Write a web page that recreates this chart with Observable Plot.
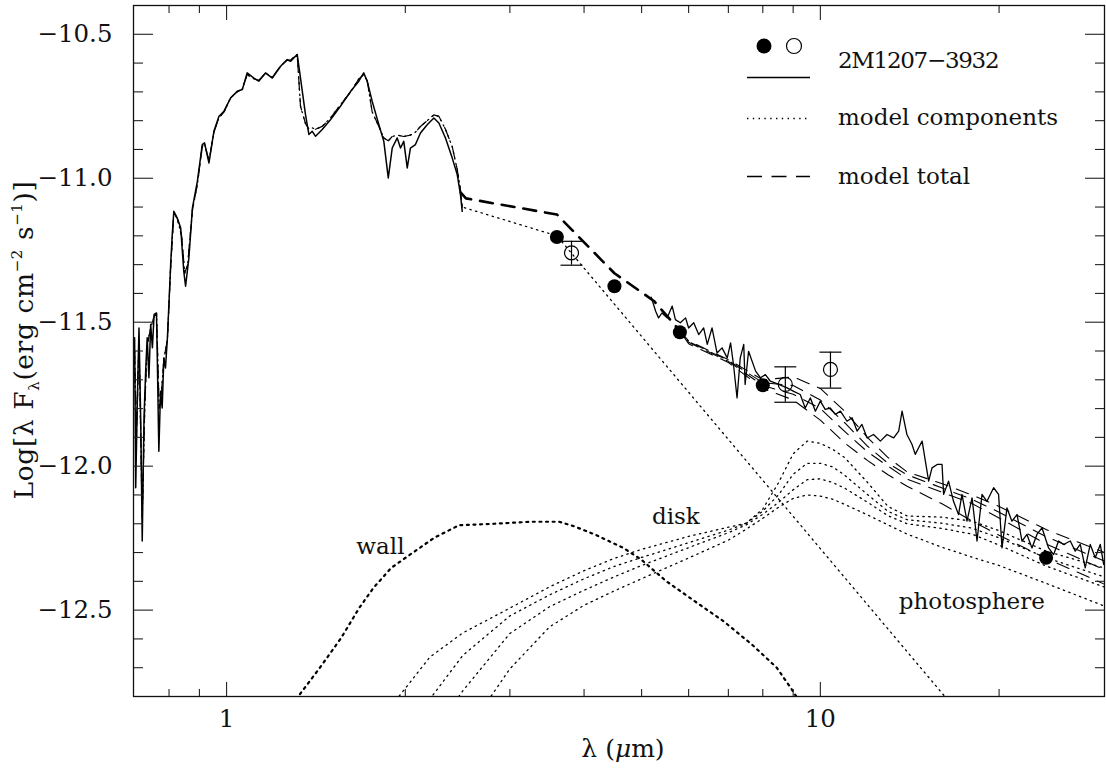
<!DOCTYPE html>
<html>
<head>
<meta charset="utf-8">
<script src="https://cdn.jsdelivr.net/npm/d3@7"></script>
<script src="https://cdn.jsdelivr.net/npm/@observablehq/plot@0.6"></script>
<style>
  html, body { margin: 0; padding: 0; background: #fff; }
  #chart { width: 1106px; height: 774px; }
</style>
</head>
<body>
<div id="chart"></div>
<script>
// ---------------- DATA (wavelength in micron, log10 of lambda*F_lambda) ----------------
// Observed near-IR spectrum
const nirWave = [0.700,0.703,0.707,0.712,0.717,0.721,0.726,0.731,0.735,0.740,0.745,0.750,0.755,0.762,0.764,0.769,0.774,0.779,0.784,0.789,0.795,0.800,0.805,0.810,0.815,0.826,0.837,0.847,0.853,0.864,0.876,0.893,0.910,0.918,0.934,0.952,0.971,0.990,1.016,1.042,1.063,1.083,1.112,1.133,1.163,1.194,1.233,1.265,1.281,1.315,1.332,1.358,1.376,1.394,1.412,1.449,1.497,1.555,1.618,1.670,1.702,1.725,1.759,1.805,1.840,1.872,1.901,1.938,1.963,1.988,2.015,2.040,2.080,2.121,2.177,2.234,2.278,2.337,2.399,2.446,2.477,2.494];
const nirFlux = [-11.554,-12.075,-11.798,-11.520,-11.855,-12.260,-11.832,-11.659,-11.554,-11.693,-11.508,-11.589,-11.473,-11.468,-11.601,-11.948,-11.740,-11.798,-11.624,-11.659,-11.554,-11.427,-11.300,-11.196,-11.115,-11.138,-11.173,-11.323,-11.375,-11.277,-11.103,-11.010,-10.883,-10.877,-10.947,-10.837,-10.785,-10.767,-10.721,-10.698,-10.692,-10.634,-10.652,-10.663,-10.634,-10.652,-10.611,-10.588,-10.594,-10.570,-10.652,-10.779,-10.848,-10.837,-10.854,-10.831,-10.796,-10.750,-10.698,-10.663,-10.634,-10.663,-10.733,-10.814,-10.872,-10.999,-10.895,-10.860,-10.895,-10.872,-10.964,-10.895,-10.883,-10.843,-10.814,-10.791,-10.808,-10.860,-10.930,-10.987,-11.057,-11.115];

// Observed mid-IR (IRS) spectrum
const irsWave = [5.19,5.28,5.34,5.41,5.52,5.63,5.70,5.81,5.93,6.00,6.12,6.24,6.36,6.45,6.57,6.70,6.83,6.97,7.06,7.14,7.24,7.33,7.43,7.47,7.57,7.78,7.93,8.08,8.24,8.51,8.79,9.02,9.25,9.43,9.62,9.81,10.0,10.19,10.39,10.60,10.81,11.09,11.31,11.53,11.75,11.99,12.29,12.62,12.95,13.29,13.55,13.73,13.99,14.27,14.45,14.64,14.84,15.03,15.22,15.42,15.73,16.03,16.13,16.44,16.76,17.09,17.32,17.66,18.01,18.36,18.72,19.08,19.58,19.96,20.23,20.62,21.02,21.44,21.86,22.28,22.72,23.16,23.62,24.23,24.71,25.19,25.68,26.36,26.87,27.40,27.93,28.48,29.04,29.61,30.0];
const irsFlux = [-11.413,-11.462,-11.485,-11.468,-11.485,-11.444,-11.491,-11.502,-11.485,-11.520,-11.502,-11.543,-11.520,-11.577,-11.520,-11.607,-11.589,-11.624,-11.572,-11.647,-11.763,-11.624,-11.577,-11.716,-11.601,-11.670,-11.693,-11.682,-11.705,-11.716,-11.728,-11.740,-11.751,-11.798,-11.763,-11.809,-11.774,-11.803,-11.798,-11.820,-11.809,-11.844,-11.832,-11.878,-11.855,-11.902,-11.890,-11.913,-11.890,-11.902,-11.878,-11.809,-11.890,-11.925,-11.959,-11.936,-11.913,-11.983,-12.052,-12.006,-11.994,-11.994,-12.098,-12.052,-12.122,-12.168,-12.098,-12.191,-12.110,-12.260,-12.098,-12.122,-12.075,-12.098,-12.284,-12.145,-12.191,-12.168,-12.260,-12.237,-12.284,-12.237,-12.214,-12.284,-12.307,-12.260,-12.272,-12.260,-12.295,-12.272,-12.353,-12.272,-12.318,-12.272,-12.341];

// Model photosphere in the near-IR (also the model total there)
const modelNirWave = [0.700,0.705,0.712,0.721,0.728,0.735,0.745,0.755,0.762,0.770,0.776,0.784,0.795,0.805,0.815,0.826,0.840,0.850,0.860,0.876,0.893,0.910,0.918,0.934,0.952,0.971,0.990,1.016,1.042,1.063,1.083,1.112,1.133,1.163,1.194,1.233,1.265,1.281,1.315,1.332,1.358,1.376,1.394,1.412,1.449,1.497,1.555,1.618,1.670,1.702,1.725,1.759,1.805,1.840,1.872,1.901,1.938,1.988,2.040,2.080,2.121,2.177,2.234,2.278,2.337,2.399,2.446,2.477,2.494];
const modelNirFlux = [-11.60,-11.90,-11.56,-12.18,-11.80,-11.58,-11.52,-11.48,-11.47,-11.80,-11.76,-11.63,-11.56,-11.31,-11.12,-11.14,-11.20,-11.33,-11.30,-11.11,-11.02,-10.89,-10.88,-10.94,-10.84,-10.79,-10.77,-10.72,-10.70,-10.69,-10.64,-10.655,-10.66,-10.635,-10.65,-10.61,-10.59,-10.59,-10.57,-10.75,-10.81,-10.83,-10.825,-10.83,-10.82,-10.79,-10.745,-10.70,-10.655,-10.64,-10.66,-10.77,-10.82,-10.86,-10.87,-10.855,-10.85,-10.855,-10.85,-10.84,-10.82,-10.80,-10.78,-10.785,-10.83,-10.89,-10.97,-11.04,-11.10];

// Photosphere beyond the near-IR
const photTailWave = [3.6, 15.92, 17.0];
const photTailFlux = [-11.20, -12.781, -12.851];

// Inner wall component
const wallWave = [1.25,1.321,1.436,1.560,1.673,1.767,1.894,2.057,2.236,2.464,2.829,3.250,3.630,3.837,4.169,4.658,4.990,5.499,6.143,6.864,7.665,8.446,8.990,9.3];
const wallFlux = [-12.865,-12.799,-12.700,-12.596,-12.492,-12.423,-12.353,-12.301,-12.249,-12.205,-12.200,-12.193,-12.193,-12.208,-12.237,-12.284,-12.324,-12.399,-12.469,-12.538,-12.619,-12.700,-12.781,-12.83];

// Disk components (four models)
const diskWave = [1.9,2.2,2.5,3.0,3.5,4.0,4.5,5.0,6.0,7.0,7.5,8.0,8.5,9.0,9.5,10,10.5,11,12,13,14,16,18,20,24,30.1];
const diskA = [-12.83,-12.663,-12.579,-12.493,-12.419,-12.363,-12.320,-12.289,-12.244,-12.212,-12.198,-12.149,-12.058,-11.957,-11.913,-11.921,-11.942,-11.971,-12.056,-12.140,-12.173,-12.177,-12.191,-12.224,-12.295,-12.354];
const diskB = [-12.99,-12.809,-12.657,-12.520,-12.447,-12.391,-12.348,-12.317,-12.266,-12.222,-12.199,-12.156,-12.100,-12.028,-11.990,-11.990,-12.003,-12.032,-12.098,-12.157,-12.186,-12.198,-12.215,-12.249,-12.318,-12.385];
const diskC = [-13.13,-12.944,-12.780,-12.581,-12.488,-12.431,-12.384,-12.345,-12.283,-12.231,-12.204,-12.167,-12.126,-12.082,-12.047,-12.044,-12.057,-12.077,-12.125,-12.172,-12.200,-12.216,-12.236,-12.274,-12.347,-12.420];
const diskD = [-13.295,-13.108,-12.941,-12.704,-12.558,-12.483,-12.433,-12.391,-12.319,-12.257,-12.219,-12.181,-12.143,-12.112,-12.100,-12.104,-12.115,-12.133,-12.169,-12.204,-12.236,-12.281,-12.316,-12.345,-12.407,-12.486];

// Model total: common part and four variants
const totalWave = [2.48, 2.53, 3.6, 4.5, 5.25, 5.8];
const totalFlux = [-11.05, -11.07, -11.126, -11.33, -11.427, -11.53];
const totalVarWave = [5.8,6,7,8,9,10,11,12,13,14,16,18,20,24,30.1];
const totalA = [-11.53,-11.565,-11.63,-11.70,-11.69,-11.73,-11.81,-11.90,-11.97,-12.02,-12.06,-12.10,-12.14,-12.22,-12.30];
const totalB = [-11.53,-11.567,-11.633,-11.71,-11.72,-11.77,-11.85,-11.93,-11.99,-12.03,-12.075,-12.115,-12.16,-12.245,-12.33];
const totalC = [-11.53,-11.57,-11.636,-11.72,-11.75,-11.80,-11.88,-11.95,-12.00,-12.045,-12.09,-12.13,-12.18,-12.27,-12.36];
const totalD = [-11.53,-11.575,-11.64,-11.73,-11.77,-11.84,-11.92,-11.98,-12.03,-12.07,-12.13,-12.19,-12.24,-12.32,-12.41];

// Photometry
const photWave = [3.6, 4.5, 5.8, 8.0, 24];
const photFlux = [-11.204, -11.375, -11.535, -11.719, -12.318];
const openWave = [3.81, 8.73, 10.4];
const openFlux = [-11.259, -11.716, -11.664];
const openLo = [-11.302, -11.778, -11.729];
const openHi = [-11.219, -11.655, -11.604];

// Annotations
const annText = ["wall", "disk", "photosphere"];
const annWave = [1.816, 5.71, 17.99];
const annFlux = [-12.28, -12.175, -12.472];

// Axis ticks
const xMajor = [1, 10];
const xMinor = [0.8, 0.9, 2, 3, 4, 5, 6, 7, 8, 9, 20];
const yMajor = [-12.5, -12.0, -11.5, -11.0, -10.5];
const yMinor = [-12.7,-12.6,-12.4,-12.3,-12.2,-12.1,-11.9,-11.8,-11.7,-11.6,-11.4,-11.3,-11.2,-11.1,-10.9,-10.8,-10.7,-10.6];

// ---------------- CHART ----------------
const rows = (w, f) => w.map((x, i) => ({x, y: f[i]}));
const K = "#000";
const dotted = {x: "x", y: "y", stroke: K, strokeWidth: 1.3, strokeDasharray: "1.4,4.4", clip: true};
const capSymbol = {draw(ctx, size) { const r = Math.sqrt(size / Math.PI); ctx.moveTo(-r, 0); ctx.lineTo(r, 0); }};

const openRows = openWave.map((x, i) => ({x, y: openFlux[i], lo: openLo[i], hi: openHi[i]}));
const capRows = openRows.flatMap(d => [{x: d.x, y: d.lo}, {x: d.x, y: d.hi}]);
const annRows = annText.map((t, i) => ({t, x: annWave[i], y: annFlux[i]}));

const tickStyle = {stroke: "#222", strokeWidth: 1.1, fill: "none", label: null};

const plot = Plot.plot({
  width: 1106, height: 774,
  marginLeft: 133, marginRight: 2, marginTop: 5, marginBottom: 78,
  style: {fontFamily: "'DejaVu Serif', serif", fontSize: "24.5px", background: "#fff", color: "#000", overflow: "visible"},
  x: {type: "log", domain: [0.697, 30.1]},
  y: {domain: [-12.8, -10.4]},
  marks: [
    ...[diskA, diskB, diskC, diskD].map(f => Plot.line(rows(diskWave, f), dotted)),
    Plot.line(rows(wallWave, wallFlux), {...dotted, strokeWidth: 2.2, strokeDasharray: "2,4.6"}),
    Plot.line(rows(modelNirWave.concat(photTailWave), modelNirFlux.concat(photTailFlux)), dotted),
    Plot.line(rows(modelNirWave, modelNirFlux), {x: "x", y: "y", stroke: K, strokeWidth: 1.2, strokeDasharray: "12,8", clip: true}),
    Plot.line(rows(totalWave, totalFlux), {x: "x", y: "y", stroke: K, strokeWidth: 2.6, strokeDasharray: "13,9", clip: true}),
    ...[totalA, totalB, totalC, totalD].map((f, i) => Plot.line(rows(totalVarWave, f), {x: "x", y: "y", stroke: K, strokeWidth: 1.1, strokeDasharray: "13,9", strokeDashoffset: i * 5, clip: true})),
    Plot.line(rows(nirWave, nirFlux), {x: "x", y: "y", stroke: K, strokeWidth: 1.5, clip: true}),
    Plot.line(rows(irsWave, irsFlux), {x: "x", y: "y", stroke: K, strokeWidth: 1.3, clip: true}),
    Plot.ruleX(openRows, {x: "x", y1: "lo", y2: "hi", stroke: K, strokeWidth: 1.2}),
    Plot.dot(capRows, {x: "x", y: "y", symbol: capSymbol, r: 11, stroke: K, fill: "none", strokeWidth: 1.2}),
    Plot.dot(openRows, {x: "x", y: "y", r: 7, stroke: K, fill: "none", strokeWidth: 1.2}),
    Plot.dot(rows(photWave, photFlux), {x: "x", y: "y", r: 7, fill: K, stroke: "none"}),
    Plot.text(annRows, {x: "x", y: "y", text: "t", fontSize: 23, fill: "#111"}),
    // inward ticks on all four sides
    Plot.axisY(yMajor, {anchor: "left", tickSize: 20, dx: 20, ...tickStyle}),
    Plot.axisY(yMinor, {anchor: "left", tickSize: 10, dx: 10, ...tickStyle}),
    Plot.axisY(yMajor, {anchor: "right", tickSize: 20, dx: -20, ...tickStyle}),
    Plot.axisY(yMinor, {anchor: "right", tickSize: 10, dx: -10, ...tickStyle}),
    Plot.axisX(xMajor, {anchor: "bottom", tickSize: 14, dy: -14, ...tickStyle}),
    Plot.axisX(xMinor, {anchor: "bottom", tickSize: 7, dy: -7, ...tickStyle}),
    Plot.axisX(xMajor, {anchor: "top", tickSize: 14, dy: 14, ...tickStyle}),
    Plot.axisX(xMinor, {anchor: "top", tickSize: 7, dy: 7, ...tickStyle}),
    // tick labels
    Plot.axisY(yMajor, {anchor: "left", tickSize: 0, tickPadding: 21, tickFormat: d3.format(".1f"), label: null, fill: "#111"}),
    Plot.axisX(xMajor, {anchor: "bottom", tickSize: 0, tickPadding: 13, tickFormat: d => String(d), label: null, fill: "#111"}),
    Plot.frame({stroke: "#111", strokeWidth: 1.3})
  ]
});

document.getElementById("chart").appendChild(plot);

// ---------------- AXIS TITLES AND LEGEND ----------------
const svg = d3.select(plot);
const ff = "'DejaVu Serif', serif";

// y-axis title
const yt = svg.append("text")
  .attr("transform", "translate(33,340) rotate(-90)")
  .attr("text-anchor", "middle")
  .attr("letter-spacing", 0.6)
  .attr("font-family", ff).attr("font-size", 26.5).attr("fill", "#111");
yt.append("tspan").text("Log[λ F");
yt.append("tspan").attr("font-size", 15).attr("dy", 6).text("λ");
yt.append("tspan").attr("dy", -6).text("(erg cm");
yt.append("tspan").attr("font-size", 15).attr("dy", -11).text("−2");
yt.append("tspan").attr("dy", 11).text(" s");
yt.append("tspan").attr("font-size", 15).attr("dy", -11).text("−1");
yt.append("tspan").attr("dy", 11).text(")]");

// x-axis title
const xt = svg.append("text")
  .attr("x", 623).attr("y", 757)
  .attr("text-anchor", "middle")
  .attr("font-family", ff).attr("font-size", 25).attr("fill", "#111");
xt.append("tspan").text("λ (");
xt.append("tspan").attr("font-style", "italic").text("μ");
xt.append("tspan").text("m)");

// legend
const lg = svg.append("g").attr("font-family", ff).attr("font-size", 23).attr("fill", "#111").attr("text-anchor", "start");
lg.append("circle").attr("cx", 764).attr("cy", 46).attr("r", 7.5).attr("fill", "#000");
lg.append("circle").attr("cx", 794).attr("cy", 46).attr("r", 7.5).attr("fill", "none").attr("stroke", "#000").attr("stroke-width", 1.2);
lg.append("line").attr("x1", 747).attr("x2", 810).attr("y1", 77.5).attr("y2", 77.5).attr("stroke", "#000").attr("stroke-width", 1.6);
lg.append("text").attr("x", 838).attr("y", 68).attr("letter-spacing", -1.3).text("2M1207−3932");
lg.append("line").attr("x1", 747).attr("x2", 807).attr("y1", 118.5).attr("y2", 118.5).attr("stroke", "#000").attr("stroke-width", 1.4).attr("stroke-dasharray", "1.4,4.4");
lg.append("text").attr("x", 838).attr("y", 125).text("model components");
lg.append("line").attr("x1", 747).attr("x2", 810).attr("y1", 176.5).attr("y2", 176.5).attr("stroke", "#000").attr("stroke-width", 1.6).attr("stroke-dasharray", "15,9.5");
lg.append("text").attr("x", 838).attr("y", 184).text("model total");
</script>
</body>
</html>
